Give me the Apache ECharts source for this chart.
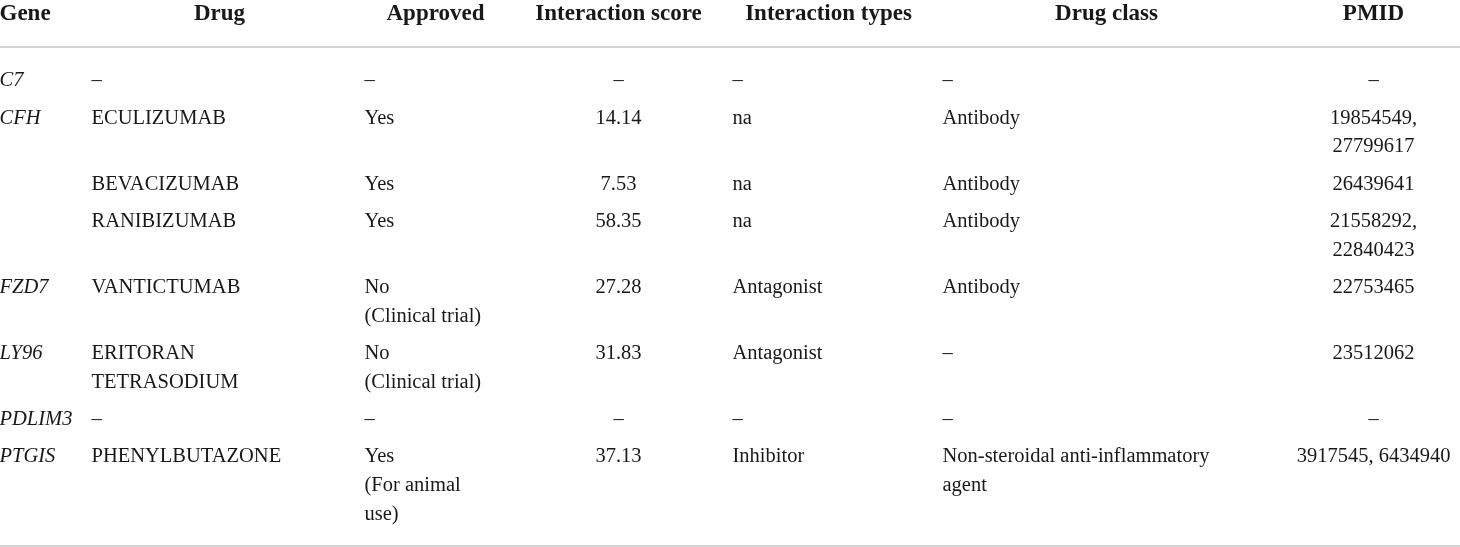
<!DOCTYPE html>
<html>
<head>
<meta charset="utf-8">
<script src="https://cdn.jsdelivr.net/npm/echarts@6/dist/echarts.min.js"></script>
<style>
html,body{margin:0;padding:0;background:#fff;}
#chart{width:1460px;height:547px;}
</style>
</head>
<body>
<div id="chart"></div>
<script>
// ---- table content ----
var headers = ["Gene", "Drug", "Approved", "Interaction score", "Interaction types", "Drug class", "PMID"];
var genes = ["C7", "CFH", "", "", "FZD7", "LY96", "PDLIM3", "PTGIS"];
var drugs = ["–", "ECULIZUMAB", "BEVACIZUMAB", "RANIBIZUMAB", "VANTICTUMAB", "ERITORAN\nTETRASODIUM", "–", "PHENYLBUTAZONE"];
var approved = ["–", "Yes", "Yes", "Yes", "No\n(Clinical trial)", "No\n(Clinical trial)", "–", "Yes\n(For animal\nuse)"];
var scores = [null, 14.14, 7.53, 58.35, 27.28, 31.83, null, 37.13];
var interactionTypes = ["–", "na", "na", "na", "Antagonist", "Antagonist", "–", "Inhibitor"];
var drugClasses = ["–", "Antibody", "Antibody", "Antibody", "Antibody", "–", "–", "Non-steroidal anti-inflammatory\nagent"];
var pmids = ["–", "19854549,\n27799617", "26439641", "21558292,\n22840423", "22753465", "23512062", "–", "3917545, 6434940"];

// ---- layout (styles / positions, kept separate from data) ----
var W = 1460, H = 547;
var LINE = 28.8, GAP = 37.2, FIRST = 81.5, HEAD_Y = 15;
var RULES = [46.5, 545.5];
var TEXT = '#1a1718';
var cols = [
  {x: 0,    align: 'left',   hx: 0,    halign: 'left', italic: true},
  {x: 92,   align: 'left',   hx: 220,  halign: 'center'},
  {x: 365,  align: 'left',   hx: 436,  halign: 'center'},
  {x: 619,  align: 'center', hx: 619,  halign: 'center'},
  {x: 733,  align: 'left',   hx: 829,  halign: 'center'},
  {x: 943,  align: 'left',   hx: 1107, halign: 'center'},
  {x: 1374, align: 'center', hx: 1374, halign: 'center'}
];

var colData = [
  genes, drugs, approved,
  scores.map(function (v) { return v == null ? '–' : v.toFixed(2); }),
  interactionTypes, drugClasses, pmids
];

// row first-line centres
var nRows = genes.length;
var rowY = [];
var y = FIRST;
for (var r = 0; r < nRows; r++) {
  rowY.push(y);
  var lines = 1;
  colData.forEach(function (c) { lines = Math.max(lines, String(c[r]).split('\n').length); });
  y += (lines - 1) * LINE + GAP;
}

var series = [];
// header series
series.push({
  type: 'scatter',
  clip: false,
  symbolSize: 1,
  itemStyle: {color: 'rgba(0,0,0,0)', opacity: 1},
  silent: true,
  data: headers.map(function (h, i) {
    return {
      value: [cols[i].hx, HEAD_Y],
      label: {
        show: true, position: [0, 0], formatter: h,
        align: cols[i].halign, verticalAlign: 'middle',
        fontFamily: 'Liberation Serif', fontWeight: 'bold', fontSize: 23,
        color: TEXT, opacity: 1
      }
    };
  }),
  markLine: {
    silent: true, symbol: ['none', 'none'],
    label: {show: false},
    lineStyle: {color: '#c4c4c4', width: 1.6, type: 'solid', opacity: 1},
    data: RULES.map(function (v) { return {yAxis: v}; })
  }
});
// body series, one per column
colData.forEach(function (c, ci) {
  var pts = [];
  c.forEach(function (txt, r) {
    if (txt === '' || txt == null) return;
    pts.push({
      value: [cols[ci].x, rowY[r] - LINE / 2],
      label: {
        show: true, position: [0, 0], formatter: String(txt),
        align: cols[ci].align, verticalAlign: 'top',
        fontFamily: 'Liberation Serif', fontSize: 20.5,
        fontStyle: cols[ci].italic ? 'italic' : 'normal',
        lineHeight: LINE, color: TEXT, opacity: 1
      }
    });
  });
  series.push({
    type: 'scatter', name: headers[ci], symbolSize: 1, clip: false,
    itemStyle: {color: 'rgba(0,0,0,0)', opacity: 1}, silent: true, data: pts
  });
});

var chart = echarts.init(document.getElementById('chart'), null, {renderer: 'canvas'});
chart.setOption({
  animation: false,
  backgroundColor: '#fff',
  grid: {left: 0, right: 0, top: 0, bottom: 0},
  xAxis: {type: 'value', min: 0, max: W, show: false},
  yAxis: {type: 'value', min: 0, max: H, inverse: true, show: false},
  series: series
});
</script>
</body>
</html>
